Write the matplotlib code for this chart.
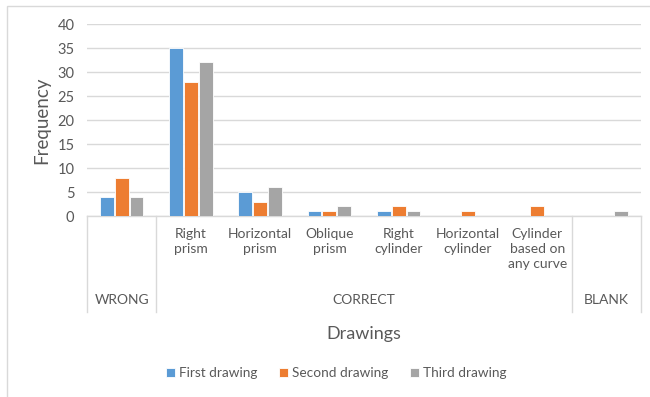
import matplotlib.pyplot as plt
from matplotlib.patches import Rectangle
from matplotlib.transforms import blended_transform_factory
import numpy as np

plt.rcParams['font.family'] = ['Lato', 'DejaVu Sans']

# categories (inner level) and their groups (outer level)
categories = ['', 'Right\nprism', 'Horizontal\nprism', 'Oblique\nprism', 'Right\ncylinder',
              'Horizontal\ncylinder', 'Cylinder\nbased on\nany curve', '']
groups = ['WRONG', 'CORRECT', 'BLANK']
group_sizes = [1, 6, 1]

series_names = ['First drawing', 'Second drawing', 'Third drawing']
first = [4, 35, 5, 1, 1, 0, 0, 0]
second = [8, 28, 3, 1, 2, 1, 2, 0]
third = [4, 32, 6, 2, 1, 0, 0, 1]
colors = ['#5B9BD5', '#ED7D31', '#A5A5A5']

txt = '#595959'
grid = '#D9D9D9'

fig = plt.figure(figsize=(6.5, 3.97), dpi=100)
ax = fig.add_axes([87/650, 1-216/397, (641-87)/650, (216-24)/397])

x = np.arange(len(categories))
w = 0.2
step = 0.215
for i, (vals, name, c) in enumerate(zip([first, second, third], series_names, colors)):
    ax.bar(x + (i-1)*step, vals, w, color=c, label=name, zorder=3,
           edgecolor='white', linewidth=0.6)

ax.set_xlim(-0.5, len(categories)-0.5)
ax.set_ylim(0, 40)
ax.set_yticks(range(0, 41, 5))
ax.yaxis.grid(True, color=grid, lw=1)
ax.set_axisbelow(True)
for s in ax.spines.values():
    s.set_visible(False)
ax.tick_params(axis='y', length=0, pad=9, labelsize=10.5, labelcolor=txt)
ax.set_xticks([])

ax.set_ylabel('Frequency', fontsize=13.5, color=txt, labelpad=5)

# multi-level category axis
tr = blended_transform_factory(ax.transData, ax.transAxes)
bottom = -(312-216)/192
ax.plot([-0.5, len(categories)-0.5], [0, 0], color=grid, lw=1, transform=tr, clip_on=False)
edges = np.cumsum([0] + group_sizes) - 0.5
for e in edges:
    ax.plot([e, e], [0, bottom], color=grid, lw=1, transform=tr, clip_on=False)
for xi, lab in zip(x, categories):
    ax.text(xi, -(228-216)/192, lab, transform=tr, ha='center', va='top',
            fontsize=10, color=txt, linespacing=1.3)
for g, a, b in zip(groups, edges[:-1], edges[1:]):
    ax.text((a+b)/2, -(300-216)/192, g, transform=tr, ha='center', va='center',
            fontsize=10, color=txt)

fig.text(364/650, 1-334/397, 'Drawings', ha='center', va='center', fontsize=13, color=txt)

leg = fig.legend(loc='center', bbox_to_anchor=(336/650, 1-373/397), ncol=3, frameon=False,
                 fontsize=9.8, handlelength=0.65, handleheight=0.65, handletextpad=0.3,
                 columnspacing=1.6, labelcolor=txt)

# chart border
fig.patches.append(Rectangle((7/650, -0.1), 1.2, 1-6/397+0.1, transform=fig.transFigure,
                             fill=False, ec=grid, lw=1))

fig.savefig('out.png', dpi=100)
